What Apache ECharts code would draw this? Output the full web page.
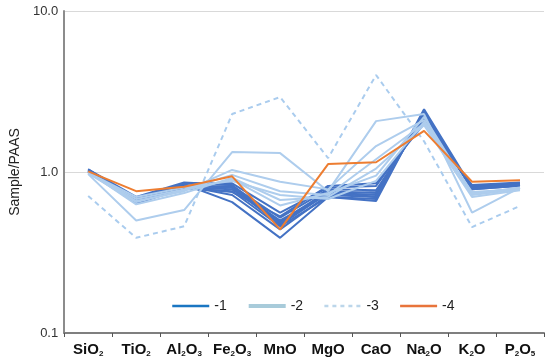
<!DOCTYPE html>
<html><head><meta charset="utf-8">
<script src="https://cdn.jsdelivr.net/npm/echarts@6/dist/echarts.min.js"></script>
<style>html,body{margin:0;padding:0;background:#fff}#c{width:550px;height:362px}</style>
</head><body><div id="c"></div>
<script>
const categories = ['SiO{s|2}','TiO{s|2}','Al{s|2}O{s|3}','Fe{s|2}O{s|3}','MnO','MgO','CaO','Na{s|2}O','K{s|2}O','P{s|2}O{s|5}'];
const yTicks = [0.1, 1, 10];
const yTickLabels = ['0.1', '1.0', '10.0'];
const legendNames = ['-1', '-2', '-3', '-4'];

// group -1 (dark blue)
const g1_a = [1.04,0.66,0.84,0.65,0.39,0.70,0.68,2.45,0.80,0.84];
const g1_b = [1.03,0.68,0.82,0.72,0.44,0.72,0.70,2.35,0.78,0.82];
const g1_c = [1.02,0.67,0.83,0.80,0.47,0.74,0.72,2.30,0.79,0.83];
const g1_d = [1.02,0.65,0.80,0.78,0.49,0.76,0.74,2.20,0.80,0.84];
const g1_e = [1.01,0.66,0.81,0.82,0.52,0.78,0.77,2.15,0.81,0.85];
const g1_f = [1.00,0.64,0.79,0.76,0.46,0.70,0.66,2.40,0.78,0.82];
const g1_g = [1.03,0.69,0.85,0.85,0.56,0.80,0.82,2.10,0.82,0.85];
const g1_h = [1.01,0.67,0.82,0.80,0.50,0.73,0.75,2.25,0.80,0.83];
const g1_i = [1.02,0.66,0.80,0.75,0.53,0.82,0.85,2.00,0.83,0.86];
const g1_j = [1.04,0.70,0.86,0.83,0.48,0.75,0.70,2.30,0.79,0.84];
// group -2 (light blue)
const g2_a = [0.97,0.50,0.58,1.33,1.31,0.76,2.07,2.29,0.56,0.80];
const g2_b = [0.99,0.66,0.76,1.03,0.87,0.78,1.45,2.10,0.72,0.78];
const g2_c = [0.98,0.68,0.78,0.96,0.76,0.72,1.20,2.00,0.74,0.79];
const g2_d = [1.00,0.63,0.74,0.92,0.67,0.70,1.05,1.95,0.70,0.77];
const g2_e = [0.98,0.65,0.77,0.90,0.62,0.74,0.95,2.20,0.73,0.80];
const g2_f = [0.99,0.70,0.80,0.88,0.72,0.68,0.88,2.05,0.75,0.78];
// group -3 (dashed)
const g3_a = [0.71,0.39,0.46,2.29,2.92,1.22,4.00,1.55,0.455,0.615];
// group -4 (orange)
const g4_a = [1.01,0.76,0.81,0.94,0.44,1.12,1.15,1.80,0.87,0.89];

const group1 = [g1_a,g1_b,g1_c,g1_d,g1_e,g1_f,g1_g,g1_h,g1_i,g1_j];
const group2 = [g2_a,g2_b,g2_c,g2_d,g2_e,g2_f];
const group3 = [g3_a];
const group4 = [g4_a];

const styles = [
  {color:'#4472C4', width:2, type:'solid'},
  {color:'#AECDED', width:2, type:'solid'},
  {color:'#AACCEE', width:2, type:[5,4]},
  {color:'#ED7D31', width:2, type:'solid'}
];
const legendStyles = [
  {color:'#1A76C2', width:2.5, type:'solid'},
  {color:'#A8CBDA', width:4, type:'solid'},
  {color:'#BCD6EA', width:2.5, type:[4,4]},
  {color:'#E8743B', width:2.5, type:'solid'}
];

const series = [];
[group1, group2, group3, group4].forEach((g, gi) => {
  g.forEach((arr, i) => {
    series.push({
      name: 'g' + gi + '_' + i, type: 'line', data: arr, symbol: 'none',
      lineStyle: {color: styles[gi].color, width: styles[gi].width, type: styles[gi].type},
      itemStyle: {color: styles[gi].color}, silent: true, z: 2 + gi
    });
  });
});
legendNames.forEach((n, i) => {
  series.push({
    name: n, type: 'line', data: [], symbol: 'none', showSymbol: false,
    lineStyle: {color: legendStyles[i].color, width: legendStyles[i].width, type: legendStyles[i].type},
    itemStyle: {color: legendStyles[i].color}
  });
});

const chart = echarts.init(document.getElementById('c'));
chart.setOption({
  animation: false,
  grid: {left: 49, right: 6, top: 11, bottom: 29},
  legend: {
    data: legendNames.map((n, i) => ({
      name: n, itemStyle: {opacity: 0},
      lineStyle: {color: legendStyles[i].color, width: legendStyles[i].width, type: legendStyles[i].type}
    })),
    left: 166, top: 294, itemWidth: 37, itemHeight: 14, itemGap: 20,
    textStyle: {fontFamily: 'Liberation Sans, Arial', fontSize: 14, color: '#222'}
  },
  xAxis: {
    type: 'category', data: categories, boundaryGap: true,
    axisLine: {lineStyle: {color: '#7f7f7f', width: 2}},
    axisTick: {show: true, length: 4, lineStyle: {color: '#555', width: 1}},
    axisLabel: {
      interval: 0, margin: 9, color: '#111',
      fontFamily: 'Liberation Sans, Arial', fontSize: 15, fontWeight: 'bold',
      rich: {s: {fontSize: 8, fontWeight: 'bold', verticalAlign: 'bottom', padding: [8,0,0,0], fontFamily: 'Liberation Sans, Arial', color:'#111'}}
    }
  },
  yAxis: {
    type: 'log', logBase: 10, min: yTicks[0], max: yTicks[yTicks.length-1],
    name: 'Sample/PAAS', nameLocation: 'middle', nameGap: 33, nameRotate: 90,
    nameTextStyle: {fontFamily: 'Liberation Sans, Arial', fontSize: 14, color: '#222'},
    axisLine: {show: true, lineStyle: {color: '#8c8c8c', width: 2}},
    axisTick: {show: false},
    splitLine: {show: true, lineStyle: {color: '#d9d9d9', width: 1}},
    axisLabel: {
      fontFamily: 'Liberation Sans, Arial', fontSize: 13, color: '#333', margin: 6,
      formatter: v => { const i = yTicks.findIndex(t => Math.abs(t - v) < 1e-9); return i >= 0 ? yTickLabels[i] : ''; }
    }
  },
  series: series
});
</script></body></html>
